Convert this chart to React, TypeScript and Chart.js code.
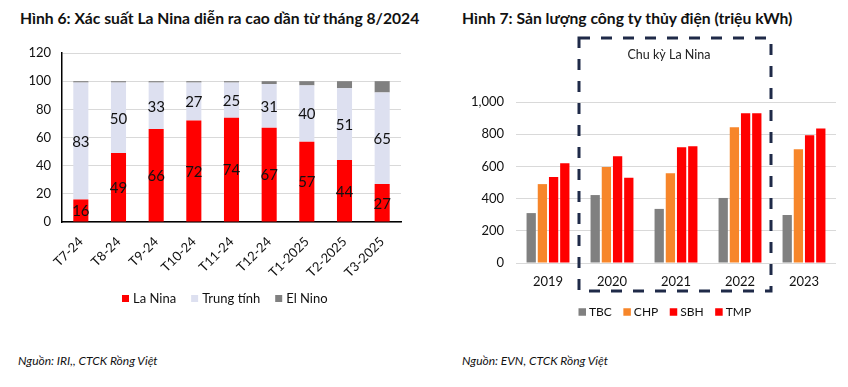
import React, { useEffect, useRef } from "react";
import { Chart, registerables } from "chart.js";
Chart.register(...registerables);

// ---- Figure 6 data ----
const months = ["T7-24", "T8-24", "T9-24", "T10-24", "T11-24", "T12-24", "T1-2025", "T2-2025", "T3-2025"];
const laNina = [16, 49, 66, 72, 74, 67, 57, 44, 27];
const trungTinh = [83, 50, 33, 27, 25, 31, 40, 51, 65];
const elNino = [1, 1, 1, 1, 1, 2, 3, 5, 8];

// ---- Figure 7 data ----
const years = ["2019", "2020", "2021", "2022", "2023"];
const tbc = [310, 422, 336, 404, 298];
const chp = [490, 597, 558, 843, 706];
const sbh = [534, 663, 719, 930, 793];
const tmp = [620, 530, 725, 930, 836];
const cycleFrom = "2020";
const cycleTo = "2022";

const FONT = "Lato, 'Open Sans', sans-serif";

const segmentLabels = {
  id: "segmentLabels",
  afterDatasetsDraw(chart: any) {
    const ctx = chart.ctx;
    ctx.save();
    ctx.font = `15px ${FONT}`;
    ctx.fillStyle = "#111";
    ctx.textAlign = "center";
    ctx.textBaseline = "middle";
    [0, 1].forEach((di) => {
      const meta = chart.getDatasetMeta(di);
      meta.data.forEach((el: any, i: number) => {
        const v = chart.data.datasets[di].data[i];
        const p = el.getProps(["x", "y", "base"], true);
        ctx.fillText(String(v), p.x, (p.y + p.base) / 2 + 1);
      });
    });
    ctx.restore();
  },
};

// Legend drawn from the datasets' labels and colours
const boxLegend = {
  id: "boxLegend",
  afterDraw(chart: any, _args: any, opts: any) {
    const ctx = chart.ctx;
    ctx.save();
    ctx.font = `${opts.size}px ${FONT}`;
    ctx.textBaseline = "middle";
    ctx.textAlign = "left";
    let x = opts.x;
    chart.data.datasets.forEach((ds: any) => {
      ctx.fillStyle = ds.backgroundColor;
      ctx.fillRect(x, opts.y - opts.box / 2, opts.box, opts.box);
      x += opts.box + opts.gap;
      ctx.fillStyle = "#111";
      ctx.fillText(ds.label, x, opts.y + 0.5);
      x += ctx.measureText(ds.label).width + opts.itemGap;
    });
    ctx.restore();
  },
};

const cycleBox = {
  id: "cycleBox",
  afterDraw(chart: any, _args: any, opts: any) {
    const xs = chart.scales.x;
    const i0 = years.indexOf(opts.from);
    const i1 = years.indexOf(opts.to);
    const half = (xs.getPixelForValue(1) - xs.getPixelForValue(0)) / 2;
    const left = xs.getPixelForValue(i0) - half - 1;
    const right = xs.getPixelForValue(i1) + half - 1;
    const top = opts.top;
    const bottom = chart.chartArea.bottom + opts.below;
    const ctx = chart.ctx;
    ctx.save();
    ctx.strokeStyle = "#1F2A48";
    ctx.lineWidth = 3;
    ctx.setLineDash([11, 11]);
    ctx.strokeRect(left, top, right - left, bottom - top);
    ctx.setLineDash([]);
    ctx.font = `12.5px ${FONT}`;
    ctx.fillStyle = "#222";
    ctx.textAlign = "center";
    ctx.textBaseline = "middle";
    ctx.fillText(opts.text, (left + right) / 2 - 6, top + 17);
    ctx.restore();
  },
};

function ProbChart() {
  const ref = useRef<HTMLCanvasElement>(null);
  useEffect(() => {
    const chart = new Chart(ref.current!, {
      type: "bar",
      data: {
        labels: months,
        datasets: [
          { label: "La Nina", data: laNina, backgroundColor: "#FF0000" },
          { label: "Trung tính", data: trungTinh, backgroundColor: "#DDE0F0" },
          { label: "El Nino", data: elNino, backgroundColor: "#808080" },
        ],
      },
      options: {
        animation: false,
        responsive: false,
        events: [],
        layout: { padding: { top: 13, right: 23, left: 0, bottom: 56 } },
        datasets: { bar: { barPercentage: 0.4, categoryPercentage: 1 } } as any,
        plugins: {
          tooltip: { enabled: false },
          legend: { display: false },
          boxLegend: { x: 122, y: 258.5, box: 7, gap: 4, itemGap: 15, size: 13 },
        } as any,
        scales: {
          x: {
            stacked: true,
            grid: { display: false, drawTicks: false },
            border: { color: "#000", width: 1.5 },
            ticks: { autoSkip: false, maxRotation: 45, minRotation: 45, padding: 12, color: "#111", font: { family: FONT, size: 13 } },
            afterFit: (s: any) => { s.height = 62; },
          },
          y: {
            stacked: true,
            min: 0,
            max: 120,
            ticks: { stepSize: 20, padding: 0, color: "#111", font: { family: FONT, size: 13 } },
            grid: { color: "#D9D9D9", drawTicks: true, tickLength: 11, tickColor: "rgba(0,0,0,0)" },
            border: { color: "#000", width: 1.5 },
            afterFit: (s: any) => { s.width = 62; },
          },
        },
      },
      plugins: [segmentLabels, boxLegend],
    });
    return () => chart.destroy();
  }, []);
  return <canvas ref={ref} width={424} height={300} style={{ position: "absolute", left: 0, top: 40 }} />;
}

function HydroChart() {
  const ref = useRef<HTMLCanvasElement>(null);
  useEffect(() => {
    const chart = new Chart(ref.current!, {
      type: "bar",
      data: {
        labels: years,
        datasets: [
          { label: "TBC", data: tbc, backgroundColor: "#808080" },
          { label: "CHP", data: chp, backgroundColor: "#F7862A" },
          { label: "SBH", data: sbh, backgroundColor: "#FF0000" },
          { label: "TMP", data: tmp, backgroundColor: "#FF0000" },
        ],
      },
      options: {
        animation: false,
        responsive: false,
        events: [],
        layout: { padding: { top: 72, right: 12, left: 0, bottom: 47 } },
        datasets: { bar: { barPercentage: 0.83, categoryPercentage: 0.7 } } as any,
        plugins: {
          tooltip: { enabled: false },
          legend: { display: false },
          boxLegend: { x: 154.5, y: 282, box: 7.5, gap: 3, itemGap: 11.5, size: 12 },
          cycleBox: { from: cycleFrom, to: cycleTo, top: 8, below: 28, text: "Chu kỳ La Nina" },
        } as any,
        scales: {
          x: {
            grid: { display: false, drawTicks: false },
            border: { display: false },
            ticks: { padding: 11, color: "#111", font: { family: FONT, size: 13 } },
            afterFit: (s: any) => { s.height = 30; },
          },
          y: {
            min: 0,
            max: 1000,
            ticks: { stepSize: 200, padding: 12, color: "#111", font: { family: FONT, size: 13 } },
            grid: { color: "#D9D9D9", drawTicks: false },
            border: { display: false },
            afterFit: (s: any) => { s.width = 92; },
          },
        },
      },
      plugins: [cycleBox, boxLegend],
    });
    return () => chart.destroy();
  }, []);
  return <canvas ref={ref} width={424} height={310} style={{ position: "absolute", left: 424, top: 30 }} />;
}

export default function App() {
  const title: React.CSSProperties = {
    position: "absolute",
    top: 8,
    fontFamily: FONT,
    fontWeight: 700,
    fontSize: 15.7,
    lineHeight: "20px",
    color: "#111",
    whiteSpace: "nowrap",
  };
  const source: React.CSSProperties = {
    position: "absolute",
    top: 352,
    fontFamily: FONT,
    fontStyle: "italic",
    fontSize: 12,
    lineHeight: "18px",
    color: "#111",
    whiteSpace: "nowrap",
  };
  return (
    <div style={{ position: "fixed", left: 0, top: 0, width: 848, height: 387, background: "#fff", overflow: "hidden" }}>
      <div style={{ ...title, left: 20 }}>Hình 6: Xác suất La Nina diễn ra cao dần từ tháng 8/2024</div>
      <div style={{ ...title, left: 462 }}>Hình 7: Sản lượng công ty thủy điện (triệu kWh)</div>
      <ProbChart />
      <HydroChart />
      <div style={{ ...source, left: 18 }}>Nguồn: IRI,, CTCK Rồng Việt</div>
      <div style={{ ...source, left: 462 }}>Nguồn: EVN, CTCK Rồng Việt</div>
    </div>
  );
}
